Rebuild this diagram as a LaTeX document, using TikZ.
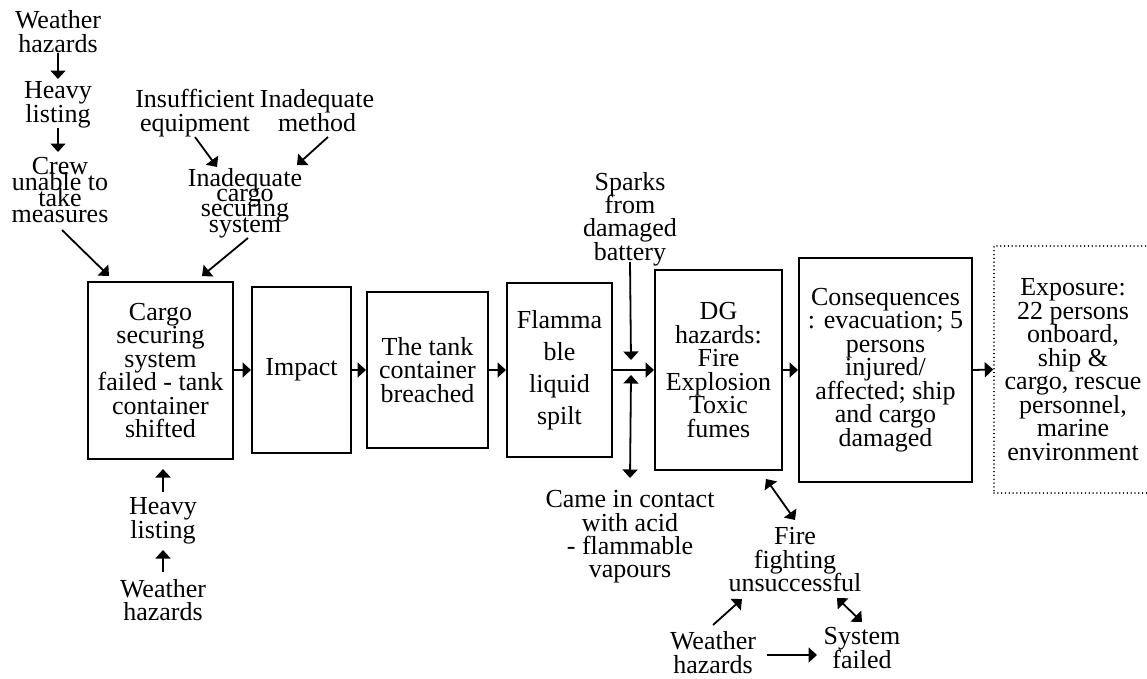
\documentclass[tikz,border=0pt]{standalone}
\usepackage{fontspec}
\setmainfont{Liberation Serif}
\usetikzlibrary{arrows.meta,calc}
\setlength{\lineskiplimit}{-100pt}
\begin{document}
\begin{tikzpicture}[x=1pt,y=-1pt,
  txt/.style={align=center, inner sep=0pt, font=\fontsize{26}{23.5}\selectfont},
  tight/.style={align=center, inner sep=0pt, font=\fontsize{26}{#1}\selectfont},
  box/.style={draw, line width=2pt, align=center, inner sep=0pt, font=\fontsize{26}{23.5}\selectfont},
  tip/.tip={Triangle[length=8.5pt,width=15pt]},
  arr/.style={line width=1.8pt, -tip},
  darr/.style={line width=1.8pt, tip-tip},
]
\useasboundingbox (0,0) rectangle (1147,678);

% main chain boxes
\node[box, minimum width=145pt, minimum height=177pt] (box1) at (160.5,370.5) {Cargo\\securing\\system\\failed - tank\\container\\shifted};
\node[box, minimum width=99pt, minimum height=166pt] (impact) at (301.5,370) {Impact};
\node[box, minimum width=121pt, minimum height=156pt] (tank) at (427.5,370) {The tank\\container\\breached};
\node[box, minimum width=105pt, minimum height=174pt, font=\fontsize{26}{32}\selectfont] (flamma) at (559.5,370) {Flamma\\ble\\liquid\\spilt};
\node[box, minimum width=127pt, minimum height=200pt] (dg) at (718.5,370) {DG\\hazards:\\Fire\\Explosion\\Toxic\\fumes};
\node[box, minimum width=173pt, minimum height=224pt] (cons) at (885.5,370) {Consequences\\: evacuation; 5\\persons\\injured/\\affected; ship\\and cargo\\damaged};
\node[box, line width=1.5pt, line cap=round, dash pattern=on 0.01pt off 3.8pt, minimum width=158pt, minimum height=247pt] (expo) at (1073,369.5) {Exposure:\\22 persons\\onboard,\\ship \&\\cargo, rescue\\personnel,\\marine\\environment};

% text nodes
\node[txt] (wh1) at (58,31.5) {Weather\\hazards};
\node[txt] (hl1) at (58,105) {Heavy\\listing};
\node[tight=15.7] (crew) at (60,190) {Crew\\unable to\\take\\measures};
\node[txt] (insuff) at (195,113) {Insufficient\\equipment};
\node[txt] (inadm) at (317,110.5) {Inadequate\\method};
\node[tight=15.2] (inadc) at (245,203) {Inadequate\\cargo\\securing\\system};
\node[txt] (hl2) at (163,521) {Heavy\\listing};
\node[txt] (wh2) at (163,600) {Weather\\hazards};
\node[txt, font=\fontsize{26}{23.3}\selectfont] (sparks) at (630,219) {Sparks\\from\\damaged\\battery};
\node[txt, font=\fontsize{26}{23.3}\selectfont] (came) at (630,537) {Came in contact\\with acid\\- flammable\\vapours};
\node[txt] (fire) at (795,560) {Fire\\fighting\\unsuccessful};
\node[txt] (wh3) at (713,652.5) {Weather\\hazards};
\node[txt] (sysf) at (862,648) {System\\failed};

% main flow
\draw[arr] (box1.east |- impact.west) -- (impact.west);
\draw[arr] (impact.east) -- (tank.west);
\draw[arr] (tank.east) -- (flamma.west);
\draw[arr] (flamma.east) -- (dg.west);
\draw[arr] (dg.east) -- (cons.west);
\draw[arr] (cons.east) -- (expo.west);

% upper left
\draw[arr] ($(wh1)+(0,21.5)$) -- ($(hl1)+(0,-26)$);
\draw[arr] ($(hl1)+(0,23)$) -- ($(crew)+(-2,-38)$);
\draw[arr] ($(crew)+(2,40)$) -- ($(box1.north west)+(22,-5)$);
\draw[arr] ($(insuff)+(0,24)$) -- ($(inadc)+(-28,-36)$);
\draw[arr] ($(inadm)+(11,26.5)$) -- ($(inadc)+(52,-38)$);
\draw[arr] ($(inadc)+(3,35)$) -- ($(box1.north west)+(115,-5)$);

% lower left
\draw[arr] ($(hl2)+(0,-29)$) -- ($(box1.south)+(2.5,9)$);
\draw[arr] ($(wh2)+(0,-28)$) -- ($(hl2)+(0,29)$);

% sparks and acid
\draw[arr] ($(sparks)+(0,43)$) -- ($(flamma.east)+(18,-10)$);
\draw[darr] ($(flamma.east)+(18,5)$) -- ($(came)+(0,-59)$);

% fire fighting cluster
\draw[darr] ($(dg.south east)+(-17,8)$) -- ($(fire)+(0,-40)$);
\draw[arr] ($(wh3)+(0,-27.5)$) -- ($(fire)+(-53,39)$);
\draw[arr] ($(wh3)+(54,2.5)$) -- ($(sysf)+(-45,7)$);
\draw[darr] ($(fire)+(42,38)$) -- ($(sysf)+(0,-26)$);
\end{tikzpicture}
\end{document}
